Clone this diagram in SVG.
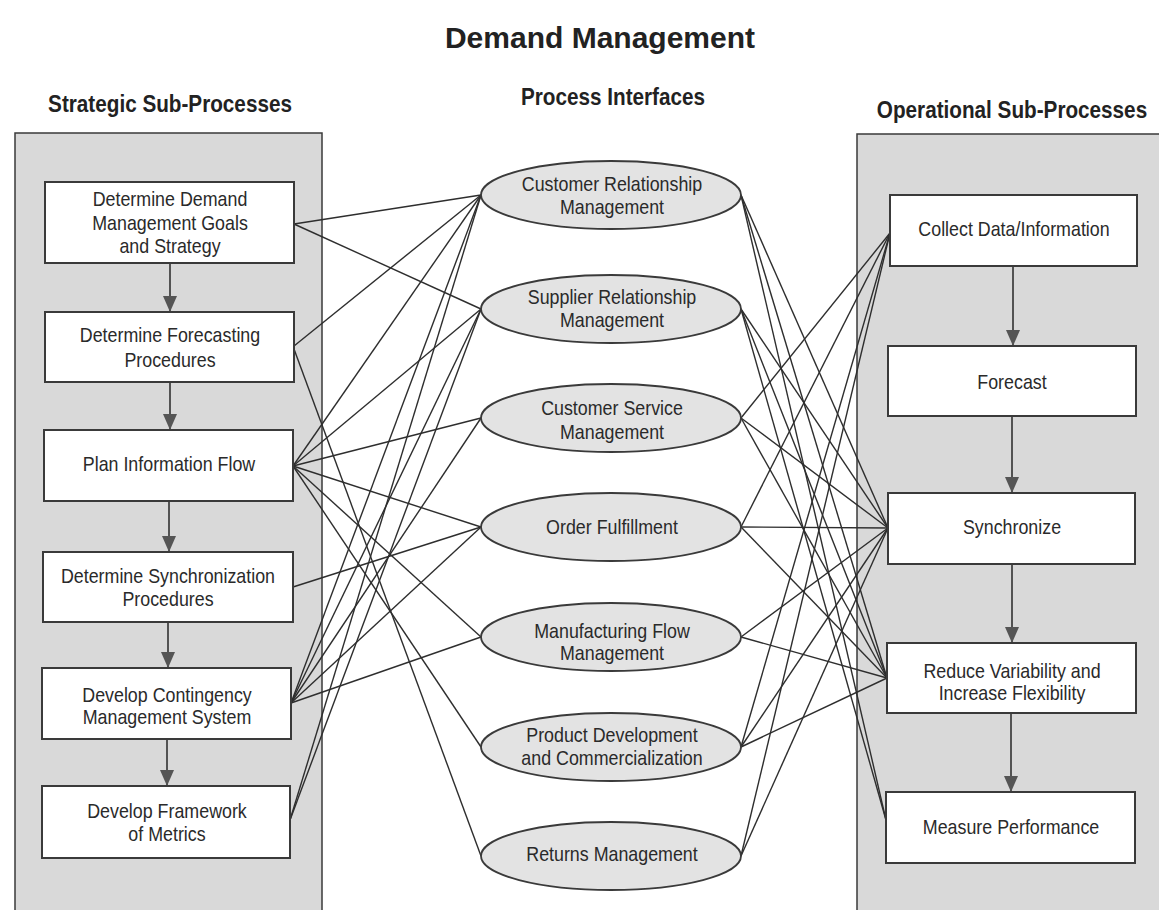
<svg xmlns="http://www.w3.org/2000/svg" width="1159" height="910" viewBox="0 0 1159 910">
<style>
.panel{fill:#d9d9d9;stroke:#3a3a3a;stroke-width:1.5}
.box{fill:#ffffff;stroke:#3a3a3a;stroke-width:2}
.ell{fill:#e3e3e3;stroke:#3a3a3a;stroke-width:1.8}
.ln{stroke:#2e2e2e;stroke-width:1.4;fill:none}
.arr{stroke:#444;stroke-width:1.8;fill:none;marker-end:url(#ah)}
.t{font-family:"Liberation Sans",Arial,sans-serif;font-size:21px;fill:#2a2a2a;text-anchor:middle}
.h{font-family:"Liberation Sans",Arial,sans-serif;font-size:23px;font-weight:bold;fill:#222;text-anchor:middle}
.title{font-family:"Liberation Sans",Arial,sans-serif;font-size:30px;font-weight:bold;fill:#222;text-anchor:middle}
</style>
<defs>
<marker id="ah" markerUnits="userSpaceOnUse" viewBox="0 0 16 14" refX="16" refY="7" markerWidth="16" markerHeight="14" orient="auto">
<path d="M0,0 L16,7 L0,14 z" fill="#555"/>
</marker>
</defs>
<rect width="1159" height="910" fill="#ffffff"/>

<text class="title" x="600" y="48">Demand Management</text>
<text class="h" transform="translate(170 112) scale(0.9 1)">Strategic Sub-Processes</text>
<text class="h" transform="translate(613 105) scale(0.9 1)">Process Interfaces</text>
<text class="h" transform="translate(1012 118) scale(0.9 1)">Operational Sub-Processes</text>

<g id="panel-strategic"><rect class="panel" x="15" y="133" width="307" height="800"/></g>
<g id="panel-operational"><rect class="panel" x="857" y="134" width="320" height="800"/></g>

<g id="connectors">
<!-- left side -->
<line class="ln" x1="294" y1="224" x2="481" y2="195"/>
<line class="ln" x1="294" y1="224" x2="481" y2="309"/>
<line class="ln" x1="294" y1="346" x2="481" y2="195"/>
<line class="ln" x1="294" y1="349" x2="481" y2="856"/>
<line class="ln" x1="293" y1="466" x2="481" y2="195"/>
<line class="ln" x1="293" y1="466" x2="481" y2="309"/>
<line class="ln" x1="293" y1="466" x2="481" y2="418"/>
<line class="ln" x1="293" y1="466" x2="481" y2="527"/>
<line class="ln" x1="293" y1="466" x2="481" y2="637"/>
<line class="ln" x1="293" y1="466" x2="481" y2="747"/>
<line class="ln" x1="293" y1="587" x2="481" y2="527"/>
<line class="ln" x1="291" y1="703" x2="481" y2="195"/>
<line class="ln" x1="291" y1="703" x2="481" y2="309"/>
<line class="ln" x1="291" y1="703" x2="481" y2="418"/>
<line class="ln" x1="291" y1="703" x2="481" y2="527"/>
<line class="ln" x1="291" y1="703" x2="481" y2="637"/>
<line class="ln" x1="290" y1="820" x2="481" y2="195"/>
<line class="ln" x1="290" y1="820" x2="481" y2="309"/>
<!-- right side -->
<line class="ln" x1="741" y1="195" x2="888" y2="528"/>
<line class="ln" x1="741" y1="195" x2="887" y2="678"/>
<line class="ln" x1="741" y1="195" x2="886" y2="820"/>
<line class="ln" x1="741" y1="309" x2="888" y2="528"/>
<line class="ln" x1="741" y1="309" x2="887" y2="678"/>
<line class="ln" x1="741" y1="309" x2="886" y2="820"/>
<line class="ln" x1="741" y1="418" x2="890" y2="233"/>
<line class="ln" x1="741" y1="418" x2="888" y2="528"/>
<line class="ln" x1="741" y1="418" x2="887" y2="678"/>
<line class="ln" x1="741" y1="527" x2="890" y2="233"/>
<line class="ln" x1="741" y1="527" x2="888" y2="528"/>
<line class="ln" x1="741" y1="527" x2="887" y2="678"/>
<line class="ln" x1="741" y1="637" x2="888" y2="528"/>
<line class="ln" x1="741" y1="637" x2="887" y2="678"/>
<line class="ln" x1="741" y1="747" x2="890" y2="233"/>
<line class="ln" x1="741" y1="747" x2="888" y2="528"/>
<line class="ln" x1="741" y1="747" x2="887" y2="678"/>
<line class="ln" x1="741" y1="856" x2="890" y2="233"/>
<line class="ln" x1="741" y1="856" x2="888" y2="528"/>
<!-- flow arrows -->
<line class="arr" x1="170" y1="263" x2="170" y2="312"/>
<line class="arr" x1="170" y1="382" x2="170" y2="430"/>
<line class="arr" x1="169" y1="501" x2="169" y2="552"/>
<line class="arr" x1="168" y1="622" x2="168" y2="668"/>
<line class="arr" x1="167" y1="739" x2="167" y2="786"/>
<line class="arr" x1="1013" y1="266" x2="1013" y2="346"/>
<line class="arr" x1="1012" y1="416" x2="1012" y2="493"/>
<line class="arr" x1="1012" y1="564" x2="1012" y2="643"/>
<line class="arr" x1="1011" y1="713" x2="1011" y2="792"/>
</g>

<g id="s1"><rect class="box" x="45" y="182" width="249" height="81"/>
<text class="t" transform="translate(170 206) scale(0.85 1)">Determine Demand</text>
<text class="t" transform="translate(170 229.5) scale(0.85 1)">Management Goals</text>
<text class="t" transform="translate(170 253) scale(0.85 1)">and Strategy</text></g>
<g id="s2"><rect class="box" x="45" y="312" width="249" height="70"/>
<text class="t" transform="translate(170 342) scale(0.85 1)">Determine Forecasting</text>
<text class="t" transform="translate(170 367) scale(0.85 1)">Procedures</text></g>
<g id="s3"><rect class="box" x="44" y="430" width="249" height="71"/>
<text class="t" transform="translate(169 471) scale(0.85 1)">Plan Information Flow</text></g>
<g id="s4"><rect class="box" x="43" y="552" width="250" height="70"/>
<text class="t" transform="translate(168 583) scale(0.85 1)">Determine Synchronization</text>
<text class="t" transform="translate(168 606) scale(0.85 1)">Procedures</text></g>
<g id="s5"><rect class="box" x="42" y="668" width="249" height="71"/>
<text class="t" transform="translate(167 702) scale(0.85 1)">Develop Contingency</text>
<text class="t" transform="translate(167 724) scale(0.85 1)">Management System</text></g>
<g id="s6"><rect class="box" x="42" y="786" width="248" height="72"/>
<text class="t" transform="translate(167 818) scale(0.85 1)">Develop Framework</text>
<text class="t" transform="translate(167 841) scale(0.85 1)">of Metrics</text></g>

<g id="p1"><ellipse class="ell" cx="611" cy="195" rx="130" ry="34"/>
<text class="t" transform="translate(612 191) scale(0.85 1)">Customer Relationship</text>
<text class="t" transform="translate(612 214) scale(0.85 1)">Management</text></g>
<g id="p2"><ellipse class="ell" cx="611" cy="309" rx="130" ry="34"/>
<text class="t" transform="translate(612 304) scale(0.85 1)">Supplier Relationship</text>
<text class="t" transform="translate(612 327) scale(0.85 1)">Management</text></g>
<g id="p3"><ellipse class="ell" cx="611" cy="418" rx="130" ry="34"/>
<text class="t" transform="translate(612 415) scale(0.85 1)">Customer Service</text>
<text class="t" transform="translate(612 439) scale(0.85 1)">Management</text></g>
<g id="p4"><ellipse class="ell" cx="611" cy="527" rx="130" ry="34"/>
<text class="t" transform="translate(612 534) scale(0.85 1)">Order Fulfillment</text></g>
<g id="p5"><ellipse class="ell" cx="611" cy="637" rx="130" ry="34"/>
<text class="t" transform="translate(612 638) scale(0.85 1)">Manufacturing Flow</text>
<text class="t" transform="translate(612 660) scale(0.85 1)">Management</text></g>
<g id="p6"><ellipse class="ell" cx="611" cy="747" rx="130" ry="34"/>
<text class="t" transform="translate(612 742) scale(0.85 1)">Product Development</text>
<text class="t" transform="translate(612 765) scale(0.85 1)">and Commercialization</text></g>
<g id="p7"><ellipse class="ell" cx="611" cy="856" rx="130" ry="34"/>
<text class="t" transform="translate(612 861) scale(0.85 1)">Returns Management</text></g>

<g id="o1"><rect class="box" x="890" y="195" width="247" height="71"/>
<text class="t" transform="translate(1014 236) scale(0.85 1)">Collect Data/Information</text></g>
<g id="o2"><rect class="box" x="888" y="346" width="248" height="70"/>
<text class="t" transform="translate(1012 389) scale(0.85 1)">Forecast</text></g>
<g id="o3"><rect class="box" x="888" y="493" width="247" height="71"/>
<text class="t" transform="translate(1012 534) scale(0.85 1)">Synchronize</text></g>
<g id="o4"><rect class="box" x="887" y="643" width="249" height="70"/>
<text class="t" transform="translate(1012 678) scale(0.85 1)">Reduce Variability and</text>
<text class="t" transform="translate(1012 700) scale(0.85 1)">Increase Flexibility</text></g>
<g id="o5"><rect class="box" x="886" y="792" width="249" height="71"/>
<text class="t" transform="translate(1011 834) scale(0.85 1)">Measure Performance</text></g>
</svg>
